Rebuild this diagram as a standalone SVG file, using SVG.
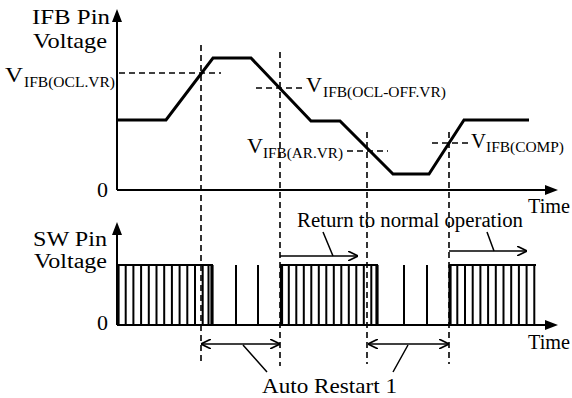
<svg xmlns="http://www.w3.org/2000/svg" width="572" height="398" viewBox="0 0 572 398">
<style>
text{font-family:"Liberation Serif","Times New Roman",serif;fill:#000}
.m{font-size:20px}
.l{font-size:22px}
.s{font-size:14px}
.ax{stroke:#000;stroke-width:2;fill:none}
.dash{stroke:#000;stroke-width:1.6;fill:none;stroke-dasharray:6 4}
.wave{stroke:#000;stroke-width:3;fill:none;stroke-linejoin:miter}
.pl{stroke:#000;stroke-width:2;fill:none}
.thick{stroke:#000;stroke-width:3.2;fill:none}
.thin{stroke:#000;stroke-width:1.5;fill:none}
</style>
<defs>
<marker id="open" viewBox="0 0 10 10" refX="10" refY="5" markerWidth="10" markerHeight="10" markerUnits="userSpaceOnUse" orient="auto-start-reverse">
<path d="M0,0 L10,5 L0,10" fill="none" stroke="#000" stroke-width="1.6"/>
</marker>
</defs>
<rect width="572" height="398" fill="#fff"/>

<g id="top-axes">
<path class="ax" d="M117,190 V20 M117,190 H547"/>
<path d="M117,9 L112,22 L122,22 Z M558,190 L545,185 L545,195 Z" fill="#000"/>
<text class="l" x="32" y="24" textLength="78" lengthAdjust="spacingAndGlyphs">IFB Pin</text>
<text class="l" x="33" y="48" textLength="74" lengthAdjust="spacingAndGlyphs">Voltage</text>
<text class="l" x="97" y="197">0</text>
<text class="m" x="528" y="213" textLength="42" lengthAdjust="spacingAndGlyphs">Time</text>
</g>

<g id="ifb-waveform">
<path class="wave" d="M117,120 H166 L213,58 H251 L311,121 H340 L393,174 H429 L464,120 H529"/>
</g>

<g id="thresholds">
<path class="dash" d="M119,73 H221 M256,88 H302 M347,151 H388 M432,143 H472"/>
<text class="m" x="5" y="82" textLength="18" lengthAdjust="spacingAndGlyphs">V</text>
<text class="s" x="24" y="87" textLength="91" lengthAdjust="spacingAndGlyphs">IFB(OCL.VR)</text>
<text class="m" x="306" y="92" textLength="16" lengthAdjust="spacingAndGlyphs">V</text>
<text class="s" x="323" y="97" textLength="123" lengthAdjust="spacingAndGlyphs">IFB(OCL-OFF.VR)</text>
<text class="m" x="247" y="153" textLength="16" lengthAdjust="spacingAndGlyphs">V</text>
<text class="s" x="263" y="158" textLength="80" lengthAdjust="spacingAndGlyphs">IFB(AR.VR)</text>
<text class="m" x="471" y="148" textLength="15" lengthAdjust="spacingAndGlyphs">V</text>
<text class="s" x="486" y="152" textLength="78" lengthAdjust="spacingAndGlyphs">IFB(COMP)</text>
</g>

<g id="time-markers">
<path class="dash" d="M201,45 V364 M280,52 V366 M367,132 V364 M449,132 V364"/>
</g>

<g id="bottom-axes">
<path class="ax" d="M117,325 V234 M117,325 H547"/>
<path d="M117,222 L112,235 L122,235 Z M558,325 L545,320 L545,330 Z" fill="#000"/>
<text class="m" x="33" y="246" textLength="74" lengthAdjust="spacingAndGlyphs">SW Pin</text>
<text class="m" x="34" y="268" textLength="73" lengthAdjust="spacingAndGlyphs">Voltage</text>
<text class="l" x="97" y="330">0</text>
<text class="m" x="528" y="349" textLength="42" lengthAdjust="spacingAndGlyphs">Time</text>
</g>

<g id="sw-pulses">
<path class="pl" d="M117,265 H213 M280,265 H378 M449,265 H536"/>
<path class="thick" d="M118,265 V325 M212,265 V325 M281.5,265 V325 M377,265 V325 M450,265 V325"/>
<path class="pl" d="M125.7,265V325 M133.4,265V325 M141.1,265V325 M148.8,265V325 M156.5,265V325 M164.2,265V325 M171.9,265V325 M179.6,265V325 M187.3,265V325 M195,265V325 M202.7,265V325 M208.5,265V325"/>
<path class="pl" d="M236,265V325 M258,265V325 M404,265V325 M427,265V325"/>
<path class="pl" d="M288.8,265V325 M296.3,265V325 M303.8,265V325 M311.3,265V325 M318.8,265V325 M326.3,265V325 M333.8,265V325 M341.3,265V325 M348.8,265V325 M356.3,265V325 M363.8,265V325 M371.3,265V325"/>
<path class="pl" d="M457.3,265V325 M465,265V325 M472.7,265V325 M480.4,265V325 M488.1,265V325 M495.8,265V325 M503.5,265V325 M511.2,265V325 M518.9,265V325 M526.6,265V325 M534.3,265V325"/>
</g>

<g id="connectors">
<path class="thin" d="M280,256 H358" marker-end="url(#open)"/>
<path class="thin" d="M449,251 H527" marker-end="url(#open)"/>
<path class="thin" d="M323,232 L333,256 M487,232 L494,251"/>
<path class="thin" d="M201,344 H280" marker-start="url(#open)" marker-end="url(#open)"/>
<path class="thin" d="M368,344 H449" marker-start="url(#open)" marker-end="url(#open)"/>
<path class="thin" d="M243,345 L267,372 M408,345 L393,372"/>
</g>

<g id="labels">
<text class="m" x="297" y="227" textLength="226" lengthAdjust="spacingAndGlyphs">Return to normal operation</text>
<text class="l" x="262" y="393" textLength="135" lengthAdjust="spacingAndGlyphs">Auto Restart 1</text>
</g>
</svg>
